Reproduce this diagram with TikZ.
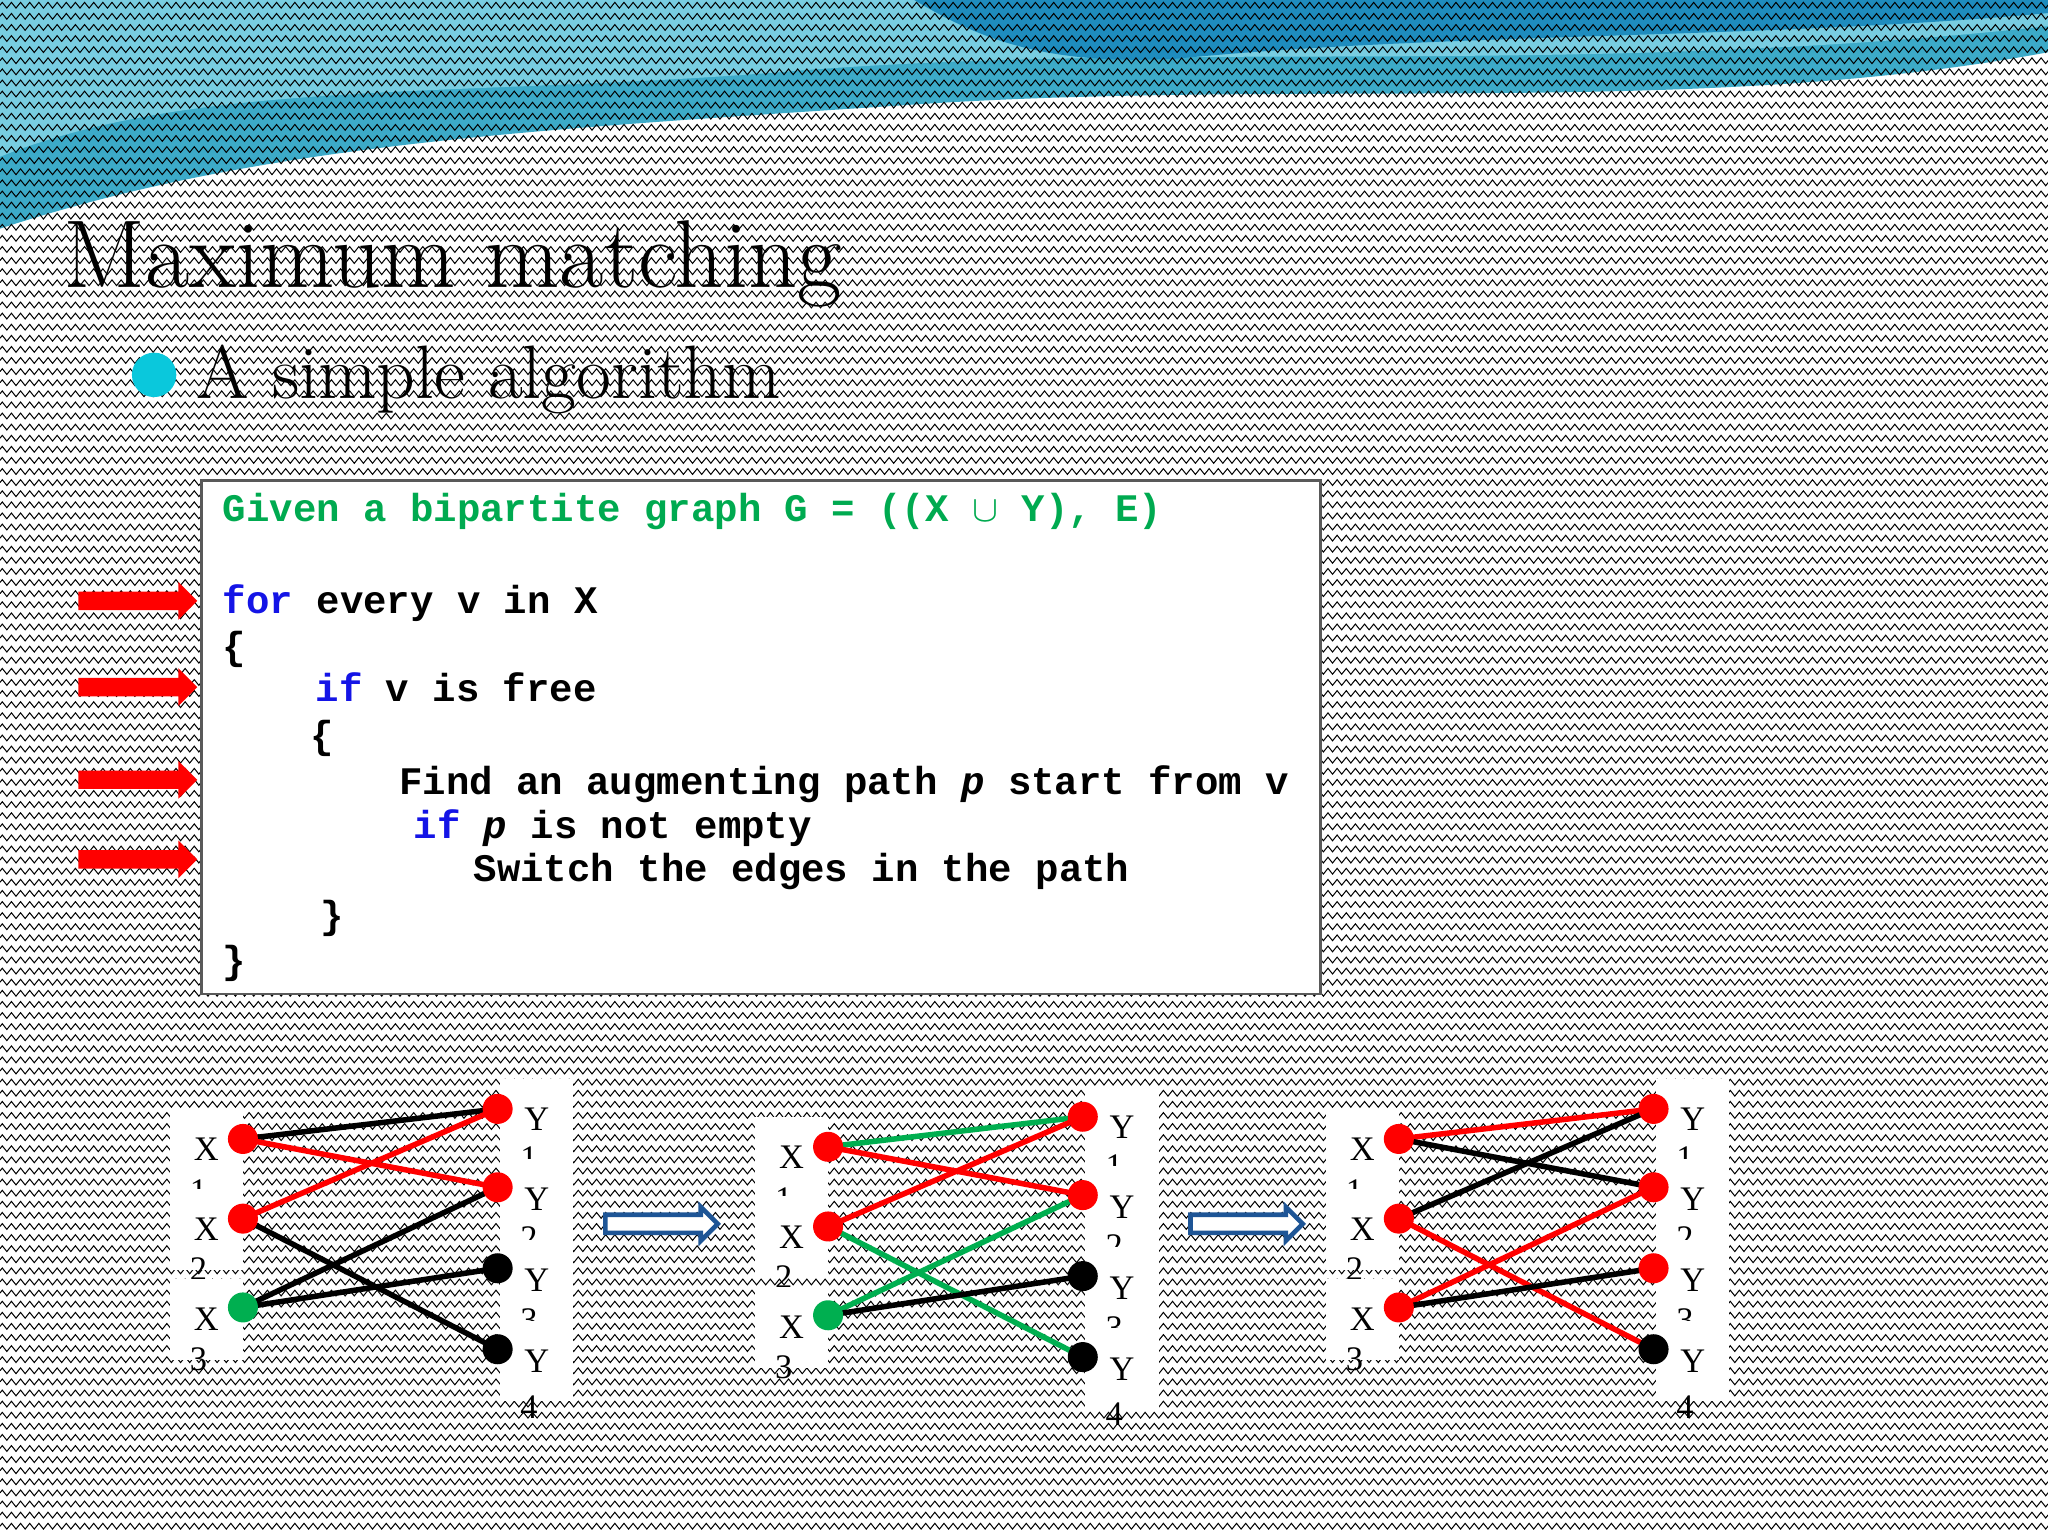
\documentclass[tikz,border=0pt]{standalone}
\usepackage{fontspec}
\usetikzlibrary{decorations.pathmorphing,shapes.arrows}
\newfontfamily\cmono{Liberation Mono}
\newfontfamily\tser{Liberation Serif}
\definecolor{kwblue}{RGB}{20,20,230}
\definecolor{cgreen}{RGB}{0,170,80}
\definecolor{gre}{RGB}{0,175,80}
\definecolor{darr}{RGB}{30,85,150}
\definecolor{wave1}{RGB}{60,170,200}
\definecolor{wave2}{RGB}{120,205,225}
\definecolor{wave3}{RGB}{30,140,190}
\definecolor{bul}{RGB}{10,200,220}
\begin{document}
\begin{tikzpicture}[x=0.1mm,y=-0.1mm,
 code/.style={anchor=base west,inner sep=0,font=\cmono\bfseries\fontsize{8.5}{10}\selectfont},
 dot/.style={circle,inner sep=0,minimum size=2.3mm},
 lab/.style={fill=white,minimum width=5.6mm,minimum height=6.2mm,inner sep=0,font=\tser\fontsize{7.5}{8}\selectfont},
 dig/.style={font=\tser\fontsize{7.5}{8}\selectfont,inner sep=0},
 ed/.style={line width=1.2pt},
 rarr/.style={single arrow,fill=red,draw=none,minimum height=9.1mm,minimum width=2.9mm,single arrow head extend=0.6mm,inner sep=0.5mm},
 barr/.style={single arrow,draw=darr,fill=white,line width=1pt,minimum height=8.6mm,minimum width=2.6mm,single arrow head extend=0.5mm,inner sep=0.4mm}]
\useasboundingbox (0,0) rectangle (1568,1176);
\fill[white] (0,0) rectangle (1568,1176);
% top wave
\fill[wave1] (0,0)--(1568,0)--(1568,40) .. controls (1300,90) and (1000,60) .. (700,80) .. controls (400,100) and (200,110) .. (0,175)--cycle;
\fill[wave2] (0,0)--(1568,0)--(1568,20) .. controls (1200,60) and (900,30) .. (600,55) .. controls (350,75) and (150,60) .. (0,120)--cycle;
\fill[wave3] (700,0)--(1568,0)--(1568,10) .. controls (1350,30) and (1100,25) .. (900,45) .. controls (800,50) and (750,30) .. (700,0)--cycle;
\foreach \yy in {4,12.5,...,1176}
 \draw[line width=0.22pt,decorate,decoration={zigzag,segment length=0.7mm,amplitude=0.22mm}] (0,\yy)--(1568,\yy);
% title
\node[anchor=base west,inner sep=0,font=\fontsize{21}{24}\selectfont] (title) at (48,220) {Maximum matching};
\fill[bul] (118,287) circle (17);
\node[anchor=base west,inner sep=0,font=\fontsize{16.5}{20}\selectfont] (sub) at (150,305) {A simple algorithm};
% code box
\node[draw=gray!70!black,fill=white,line width=0.6pt,minimum width=85.7mm,minimum height=39.3mm,anchor=north west,inner sep=0] (box) at (153,367) {};
\node[code,text=cgreen] (l1) at (170,399) {Given a bipartite graph G = ((X $\cup$ Y), E)};
\node[code] (l2) at (170,470) {\textcolor{kwblue}{for} every v in X};
\node[code] (l3) at (170,505) {\{};
\node[code] (l4) at (241,537) {\textcolor{kwblue}{if} v is free};
\node[code] (l5) at (237,573) {\{};
\node[code] (l6) at (305,608) {Find an augmenting path \textit{p} start from v};
\node[code] (l7) at (316,642) {\textcolor{kwblue}{if} \textit{p} is not empty};
\node[code] (l8) at (362,675) {Switch the edges in the path};
\node[code] (l9) at (245,711) {\}};
\node[code] (l10) at (170,745) {\}};
\foreach \yy/\n in {460/a1,526/a2,597/a3,658/a4}
 \node[rarr] (\n) at (102,\yy) {};
% graphs
\foreach \dx/\dy/\g in {0/0/A,448/6/B,885/0/C}{
 \begin{scope}[shift={(\dx,\dy)}]
 \node[lab] (\g lx1) at (158,880) {X}; \node[dig] (\g dx1) at (152,912) {1};
 \node[lab] (\g lx2) at (158,941) {X}; \node[dig] (\g dx2) at (152,972) {2};
 \node[lab] (\g lx3) at (158,1010) {X}; \node[dig] (\g dx3) at (152,1041) {3};
 \node[lab] (\g ly1) at (411,857) {Y}; \node[dig] (\g dy1) at (405,887) {1};
 \node[lab] (\g ly2) at (411,918) {Y}; \node[dig] (\g dy2) at (405,948) {2};
 \node[lab] (\g ly3) at (411,980) {Y}; \node[dig] (\g dy3) at (405,1011) {3};
 \node[lab] (\g ly4) at (411,1042) {Y}; \node[dig] (\g dy4) at (405,1077) {4};
 \coordinate (\g x1) at (186,872); \coordinate (\g x2) at (186,933); \coordinate (\g x3) at (186,1001);
 \coordinate (\g y1) at (381,849); \coordinate (\g y2) at (381,909); \coordinate (\g y3) at (381,971); \coordinate (\g y4) at (381,1033);
 \end{scope}}
% graph A
\draw[ed] (Ax1)--(Ay1); \draw[ed,red] (Ax1)--(Ay2); \draw[ed,red] (Ax2)--(Ay1);
\draw[ed] (Ax2)--(Ay4); \draw[ed] (Ax3)--(Ay2); \draw[ed] (Ax3)--(Ay3);
\foreach \n/\c in {x1/red,x2/red,x3/gre,y1/red,y2/red,y3/black,y4/black}
 \node[dot,fill=\c] (Ad\n) at (A\n) {};
% graph B
\draw[ed,gre] (Bx1)--(By1); \draw[ed,red] (Bx1)--(By2); \draw[ed,red] (Bx2)--(By1);
\draw[ed,gre] (Bx2)--(By4); \draw[ed,gre] (Bx3)--(By2); \draw[ed] (Bx3)--(By3);
\foreach \n/\c in {x1/red,x2/red,x3/gre,y1/red,y2/red,y3/black,y4/black}
 \node[dot,fill=\c] (Bd\n) at (B\n) {};
% graph C
\draw[ed,red] (Cx1)--(Cy1); \draw[ed] (Cx1)--(Cy2); \draw[ed] (Cx2)--(Cy1);
\draw[ed,red] (Cx2)--(Cy4); \draw[ed,red] (Cx3)--(Cy2); \draw[ed] (Cx3)--(Cy3);
\foreach \n/\c in {x1/red,x2/red,x3/red,y1/red,y2/red,y3/red,y4/black}
 \node[dot,fill=\c] (Cd\n) at (C\n) {};
\node[barr] (b1) at (503,937) {};
\node[barr] (b2) at (951,937) {};
\end{tikzpicture}
\end{document}
